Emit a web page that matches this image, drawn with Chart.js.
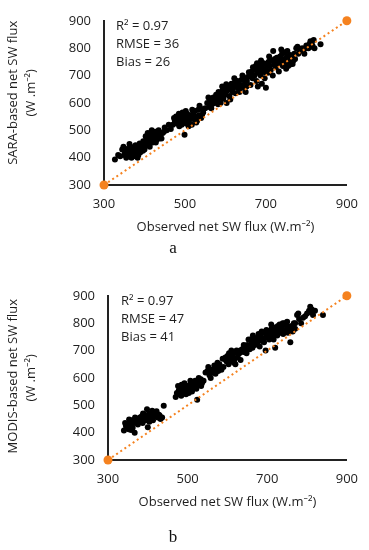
<!DOCTYPE html>
<html>
<head>
<meta charset="utf-8">
<script src="https://cdn.jsdelivr.net/npm/chart.js@4.4.1/dist/chart.umd.min.js"></script>
<style>
  html, body { margin:0; padding:0; background:#fff; }
  #wrap { position:relative; width:369px; height:550px; overflow:hidden; }
  canvas { position:absolute; left:0; }
  .lab { position:absolute; left:0; width:346px; text-align:center; font-family:"Liberation Serif","DejaVu Serif",serif; font-size:17px; line-height:17px; color:#111; }
</style>
</head>
<body>
<div id="wrap">
  <canvas id="c1" width="369" height="275" style="top:0;width:369px;height:275px"></canvas>
  <canvas id="c2" width="369" height="275" style="top:275px;width:369px;height:275px"></canvas>
  <div class="lab" style="top:239px">a</div>
  <div class="lab" style="top:528px">b</div>
</div>
<script>
// ---- Data ----
const axisMin = 300, axisMax = 900;
const xTicks = [300, 500, 700, 900];
const yTicks = [300, 400, 500, 600, 700, 800, 900];
const oneToOne = [[300, 300], [900, 900]];

const titleA = { y: ["      SARA-based net SW flux", "      (W .m⁻²)"], x: "Observed net SW flux (W.m⁻²)" };
const titleB = { y: [" MODIS-based net SW flux", "(W .m⁻²)"], x: "Observed net SW flux (W.m⁻²)" };
const statsA = ["R² = 0.97", "RMSE = 36", "Bias = 26"];
const statsB = ["R² = 0.97", "RMSE = 47", "Bias = 41"];

// observed vs SARA-based
const saraPoints = [
 [327,393],[340,405],[345,430],[350,410],[352,420],[355,400],[358,415],[360,425],[362,408],[365,440],
 [367,418],[368,400],[370,430],[372,412],[375,422],[377,405],[378,445],[380,415],[382,428],[385,410],
 [387,435],[390,420],[392,450],[395,440],[397,460],[400,430],[402,455],[405,470],[407,445],[410,480],
 [412,460],[415,490],[417,470],[420,455],[422,485],[425,475],[427,495],[430,465],[432,480],[435,500],
 [437,470],[440,485],[445,490],[450,510],[455,500],
 [470,520],[475,535],[478,550],[480,525],[483,540],[485,560],[488,530],[490,545],[492,520],[495,555],
 [497,535],[499,484],[500,548],[503,525],[505,560],[507,540],[510,530],[512,555],[515,545],[517,520],
 [520,560],[522,540],[525,570],[527,550],[530,535],[533,575],[535,555],[538,580],[540,545],[545,565],
 [555,600],[560,585],[563,610],[567,595],[570,620],[573,600],[577,630],[580,610],[583,640],[585,620],
 [588,600],[590,635],[593,645],[595,615],[598,655],[600,630],[603,600],[605,645],[608,660],[610,625],
 [613,650],[615,670],[618,640],[620,655],[623,675],[625,635],[628,660],[630,680],[633,650],[635,640],
 [638,665],[640,685],[643,655],[645,690],[648,670],[650,640],[653,680],[655,695],
 [660,700],[662,665],[665,715],[667,690],[670,720],[672,700],[675,735],[677,680],[680,710],[682,725],
 [685,740],[687,700],[690,730],[692,715],[695,745],[697,690],[700,725],[702,740],[705,710],[707,750],
 [710,735],[712,720],[715,755],[717,700],[720,740],[722,760],[725,730],[727,765],[730,745],[732,715],
 [735,770],[737,750],[740,780],[742,735],[745,760],[747,785],[750,745],[752,770],[755,735],[757,760],
 [760,775],[763,745],[765,770],[768,755],[770,780],
 [775,800],[778,805],[785,790],[790,800],[795,780],[800,810],[805,800],[810,825],[812,805],[815,810],
 [820,800],[835,814],[760,740],[750,725],[680,660],[690,670],[700,655],
 [335,410],[348,440],[357,432],[363,450],[373,438],[383,400],[388,452],[396,425],[403,478],[408,490],
 [413,440],[418,500],[428,455],[433,490],[442,470],[448,495],[460,520],[465,505],[473,545],[486,515],
 [494,565],[502,570],[509,515],[518,575],[528,528],[536,590],[542,555],[550,580],[558,620],[565,580],
 [575,612],[582,595],[592,660],[602,668],[612,612],[622,690],[632,670],[642,700],[652,660],[658,712],
 [668,730],[678,745],[688,755],[698,712],[708,770],[718,790],[726,745],[733,760],[738,795],[745,740],
 [753,790],[758,745],[762,760],[766,742],[772,760],[780,780],[798,800],[808,815],[818,830]
];

// observed vs MODIS-based
const modisPoints = [
 [340,408],[343,435],[347,420],[350,430],[352,412],[355,440],[357,425],[360,445],[362,418],[365,435],
 [367,400],[370,440],[372,450],[375,430],[378,445],[380,455],[383,440],[385,460],[387,435],[390,450],
 [393,465],[395,445],[398,485],[400,420],[402,460],[405,470],[408,455],[410,465],[413,445],[415,475],
 [418,460],[420,470],[425,455],[428,465],[432,450],[440,498],
 [470,530],[473,545],[476,570],[479,540],[482,560],[485,575],[488,545],[490,555],[493,565],[496,540],
 [498,570],[500,555],[503,545],[506,575],[508,560],[511,550],[514,580],[516,565],[519,590],[522,560],
 [524,520],[527,585],[530,575],[533,595],[536,580],[540,590],
 [550,625],[555,610],[560,630],[563,620],[567,645],[570,615],[573,635],[577,625],[580,650],[585,630],
 [590,640],[595,675],[598,660],[600,680],[603,650],[606,670],[609,685],[612,660],[615,690],[618,670],
 [620,650],[623,700],[626,675],[630,690],[633,665],[637,705],[640,695],[643,715],[646,700],[650,720],
 [653,740],[656,705],
 [660,725],[663,710],[666,740],[669,720],[672,745],[675,730],[678,760],[681,715],[684,750],[687,735],
 [690,765],[693,745],[696,700],[699,755],[702,770],[705,740],[708,760],[711,780],[714,750],[717,770],
 [720,710],[722,785],[725,755],[728,775],[731,795],[734,765],[737,790],[740,760],[743,800],[746,775],
 [749,790],[752,765],[755,780],[758,730],[761,790],[764,770],[767,800],
 [775,830],[780,815],[790,820],[800,835],[805,845],[808,860],[812,850],[815,830],[820,845],[840,830],
 [770,780],[785,800],
 [345,425],[353,448],[358,410],[368,455],[376,440],[388,470],[396,455],[404,440],[411,480],[422,478],
 [430,462],[436,455],[478,555],[484,535],[492,580],[499,560],[507,590],[512,570],[520,575],[528,600],
 [534,570],[545,620],[552,640],[558,600],[565,630],[575,655],[582,640],[588,670],[596,665],[604,690],
 [610,700],[617,655],[624,690],[632,700],[641,720],[648,690],[658,740],[664,755],[671,730],[677,745],
 [686,770],[692,730],[698,775],[704,755],[710,795],[716,740],[722,760],[727,790],[733,780],[739,800],
 [744,770],[750,805],[757,785],[763,775],[770,800],[778,835],[795,825],[810,840]
];

// ---- Rendering ----
const FONT = '"Open Sans", "Noto Sans", sans-serif';
const TXT = '#1e1e1e';
const AXIS = '#222222';
const ORANGE = '#F5821F';

const statsPlugin = {
  id: 'stats',
  afterDraw(chart, args, opts) {
    const ctx = chart.ctx;
    ctx.save();
    ctx.font = '13px ' + FONT;
    ctx.fillStyle = TXT;
    ctx.textBaseline = 'middle';
    ctx.textAlign = 'left';
    opts.lines.forEach((t, i) => {
      ctx.fillText(t, chart.chartArea.left + opts.dx, opts.y0 + i * 17.7);
    });
    ctx.restore();
  }
};

function makeChart(id, points, titles, stats, L) {
  const toXY = a => a.map(p => ({ x: p[0], y: p[1] }));
  return new Chart(document.getElementById(id), {
    type: 'scatter',
    data: {
      datasets: [
        {
          type: 'line',
          data: toXY(oneToOne),
          borderColor: ORANGE,
          backgroundColor: ORANGE,
          borderWidth: 2,
          borderDash: [2, 3],
          pointRadius: 4.5,
          pointBackgroundColor: ORANGE,
          pointBorderWidth: 0,
          clip: false,
          order: 0
        },
        {
          data: toXY(points),
          backgroundColor: '#000',
          borderColor: '#000',
          pointRadius: 3,
          pointBorderWidth: 0,
          order: 1
        }
      ]
    },
    options: {
      responsive: false,
      animation: false,
      devicePixelRatio: 1,
      layout: { padding: { left: 0, top: L.top, right: L.right, bottom: 35 } },
      plugins: {
        legend: { display: false },
        tooltip: { enabled: false },
        stats: { lines: stats, dx: L.dx, y0: 26.5 }
      },
      scales: {
        x: {
          type: 'linear', min: axisMin, max: axisMax,
          afterBuildTicks: s => { s.ticks = xTicks.map(v => ({ value: v })); },
          afterFit: s => { s.height = 55; },
          grid: { display: false, drawTicks: false },
          border: { display: true, color: AXIS, width: 2 },
          ticks: { color: TXT, font: { family: FONT, size: 13 }, padding: 11, maxRotation: 0 },
          title: { display: true, text: titles.x, color: TXT, font: { family: FONT, size: 13, lineHeight: 1.4 }, padding: { top: 0, bottom: 4 } }
        },
        y: {
          type: 'linear', min: axisMin, max: axisMax,
          afterBuildTicks: s => { s.ticks = yTicks.map(v => ({ value: v })); },
          afterFit: s => { s.width = L.yw; },
          grid: { display: false, drawTicks: false },
          border: { display: true, color: AXIS, width: 2 },
          ticks: { color: TXT, font: { family: FONT, size: 13 }, padding: 13 },
          title: { display: true, text: titles.y, color: TXT, font: { family: FONT, size: 13, lineHeight: 1.4 }, padding: { top: 4, bottom: 0 } }
        }
      }
    },
    plugins: [statsPlugin]
  });
}

makeChart('c1', saraPoints, titleA, statsA, { top: 13, right: 21, yw: 104, dx: 12 });
makeChart('c2', modisPoints, titleB, statsB, { top: 16, right: 14, yw: 108, dx: 13 });
</script>
</body>
</html>
